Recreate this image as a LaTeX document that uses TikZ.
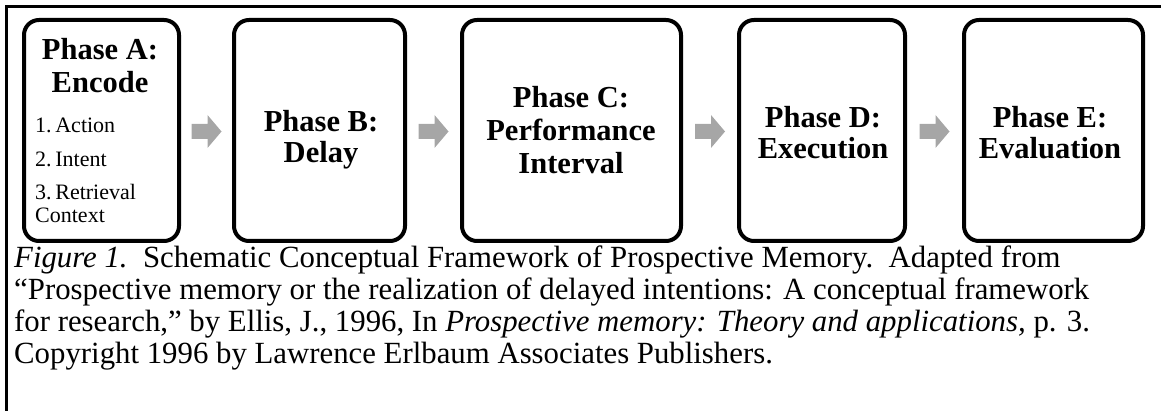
\documentclass[tikz,border=0pt]{standalone}
\usepackage{fontspec}
\setmainfont{Liberation Serif}
\definecolor{arrowgray}{HTML}{A6A6A6}
\tikzset{
  phasebox/.style={draw, line width=4pt, rounded corners=15pt, minimum height=221pt, inner sep=0pt},
  phasetext/.style={anchor=base, inner sep=0pt, font=\bfseries\fontsize{30.5}{#1}\selectfont},
  phasetext/.default=32,
  listtext/.style={anchor=base west, inner sep=0pt, font=\fontsize{22}{23}\selectfont},
  captiontext/.style={anchor=base west, inner sep=0pt, font=\fontsize{30.8}{31.7}\selectfont},
  blockarrow/.style={fill=arrowgray, draw=none}
}
\begin{document}
\begin{tikzpicture}[x=1pt,y=-1pt]
\useasboundingbox (0,0) rectangle (1161,411);
% frame
\draw[line width=2.5pt] (6.5,411) -- (6.5,6.5) -- (1161,6.5);
% boxes
\node[phasebox, minimum width=155pt] (A) at (101.5,130.5) {};
\node[phasebox, minimum width=171pt] (B) at (319.5,130.5) {};
\node[phasebox, minimum width=219pt] (C) at (571.5,130.5) {};
\node[phasebox, minimum width=166pt] (D) at (822,130.5) {};
\node[phasebox, minimum width=179pt] (E) at (1053.5,130.5) {};
% texts
\node[phasetext=33] (tA) at (100,60) {\begin{tabular}[t]{@{}c@{}}Phase A:\\Encode\end{tabular}};
\node[listtext] (tL) at (35,133) {\begin{tabular}[t]{@{}l@{}}1.\,Action\\[11pt]2.\,Intent\\[10pt]3.\,Retrieval\\Context\end{tabular}};
\node[phasetext=31] (tB) at (321,132) {\begin{tabular}[t]{@{}c@{}}Phase B:\\Delay\end{tabular}};
\node[phasetext=33] (tC) at (571,108) {\begin{tabular}[t]{@{}c@{}}Phase C:\\Performance\\Interval\end{tabular}};
\node[phasetext=31] (tD) at (823,128) {\begin{tabular}[t]{@{}c@{}}Phase D:\\Execution\end{tabular}};
\node[phasetext=31] (tE) at (1050,128) {\begin{tabular}[t]{@{}c@{}}Phase E:\\Evaluation\end{tabular}};
% arrows
\path (A.east) -- (B.west) coordinate[midway] (ab);
\path (B.east) -- (C.west) coordinate[midway] (bc);
\path (C.east) -- (D.west) coordinate[midway] (cd);
\path (D.east) -- (E.west) coordinate[midway] (de);
\foreach \c in {ab,bc,cd,de}{
  \fill[blockarrow] ([shift={(-15,-6.5)}]\c) -- ++(16,0) -- ++(0,-9) -- ++(14,16.5) -- ++(-14,16.5) -- ++(0,-9) -- ++(-16,0) -- cycle;
}
% caption
\node[captiontext] (cap) at (14,268) {\begin{tabular}[t]{@{}l@{}}\textit{Figure 1.}\ \ Schematic Conceptual Framework of Prospective Memory.\ \ Adapted from\\
``Prospective memory or the realization of delayed intentions: A conceptual framework\\
for research,'' by Ellis, J., 1996, In \textit{Prospective memory: Theory and applications,} p. 3.\\
Copyright 1996 by Lawrence Erlbaum Associates Publishers.\end{tabular}};
\end{tikzpicture}
\end{document}
